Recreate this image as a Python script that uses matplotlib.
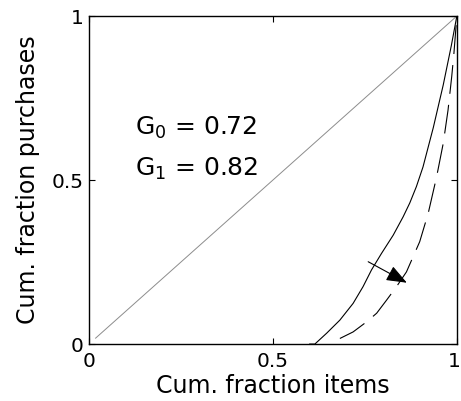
import matplotlib
matplotlib.use("Agg")
import matplotlib.pyplot as plt
from matplotlib.transforms import offset_copy

plt.rcParams['font.family'] = ['DejaVu Sans']
plt.rcParams['mathtext.fontset'] = 'dejavusans'

# Equality line
diag_x = [0.018, 1.0]
diag_y = [0.018, 1.0]

# Lorenz curve, original ranking (G0)
lorenz0_x = [0.600, 0.614, 0.646, 0.682, 0.718, 0.745, 0.768, 0.795, 0.827, 0.854,
             0.872, 0.890, 0.908, 0.936, 0.963, 0.985, 1.0]
lorenz0_y = [0.000, 0.000, 0.033, 0.073, 0.124, 0.175, 0.226, 0.276, 0.332, 0.388,
             0.430, 0.480, 0.540, 0.660, 0.790, 0.910, 1.0]

# Lorenz curve after shift (G1)
lorenz1_x = [0.682, 0.718, 0.755, 0.782, 0.809, 0.836, 0.863, 0.881, 0.899, 0.922,
             0.945, 0.963, 0.976, 0.986, 0.992, 1.0]
lorenz1_y = [0.017, 0.037, 0.068, 0.094, 0.134, 0.175, 0.220, 0.266, 0.312, 0.398,
             0.510, 0.612, 0.713, 0.815, 0.886, 1.0]

gini_labels = ['G$_0$ = 0.72', 'G$_1$ = 0.82']
arrow_start = (0.759, 0.251)
arrow_end = (0.864, 0.187)

ticks = [0, 0.5, 1]
tick_labels = ['0', '0.5', '1']

fig = plt.figure(figsize=(4.61, 4.01), dpi=100)
ax = fig.add_axes([0.193, 0.142, 0.798, 0.818])

ax.plot(diag_x, diag_y, color='#8c8c8c', lw=0.7)
ax.plot(lorenz0_x, lorenz0_y, color='black', lw=0.8)
ax.plot(lorenz1_x, lorenz1_y, color='black', lw=0.8, linestyle=(0, (26, 10)))

ax.annotate('', xy=arrow_end, xytext=arrow_start,
            arrowprops=dict(arrowstyle='-|>,head_length=0.9,head_width=0.35',
                            color='black', lw=0.8, mutation_scale=14,
                            shrinkA=0, shrinkB=0))

ax.text(0.125, 0.637, gini_labels[0], fontsize=18, ha='left', va='baseline')
ax.text(0.125, 0.512, gini_labels[1], fontsize=18, ha='left', va='baseline')

ax.set_xlim(0, 1)
ax.set_ylim(0, 1)
ax.set_xticks(ticks)
ax.set_xticklabels(tick_labels)
ax.set_yticks(ticks)
ax.set_yticklabels(tick_labels)
ax.tick_params(direction='in', length=4, width=0.8, labelsize=14.5,
               top=True, right=True)
ax.tick_params(axis='x', pad=6)
ax.tick_params(axis='y', pad=4)
for s in ax.spines.values():
    s.set_linewidth(1.0)

# nudge the rightmost x tick label so it stays inside the figure
last = ax.get_xticklabels()[-1]
last.set_transform(offset_copy(last.get_transform(), fig=fig, x=-3, y=0, units='dots'))

ax.set_xlabel('Cum. fraction items', fontsize=17, labelpad=2)
ax.set_ylabel('Cum. fraction purchases', fontsize=17, labelpad=8)

fig.savefig('out.png', dpi=100)
